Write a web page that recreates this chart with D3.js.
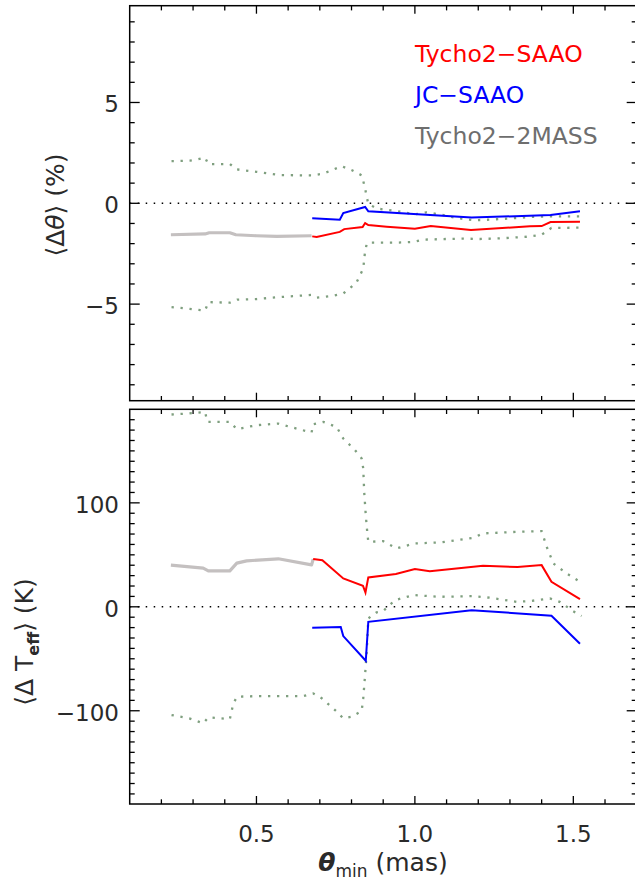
<!DOCTYPE html>
<html><head><meta charset="utf-8">
<script src="https://cdn.jsdelivr.net/npm/d3@7"></script>
<style>body{margin:0;background:#fff}svg{display:block}text{font-family:"DejaVu Sans",sans-serif;font-weight:normal}</style>
</head><body><svg id="c" width="635" height="881"></svg>
<script>
// ---------- data ----------
const xMajorTicks = [0.5, 1.0, 1.5];
const xTickLabels = ["0.5", "1.0", "1.5"];
const thetaTicks = [-5, 0, 5];
const thetaTickLabels = ["\u22125", "0", "5"];
const teffTicks = [-100, 0, 100];
const teffTickLabels = ["\u2212100", "0", "100"];
const legendLabels = ["Tycho2\u2212SAAO", "JC\u2212SAAO", "Tycho2\u22122MASS"];

// top panel: <Δθ> (%)
const t2mTheta_x = [0.23, 0.338, 0.351, 0.416, 0.435, 0.50, 0.564, 0.674];
const t2mTheta_y = [-1.56, -1.52, -1.46, -1.46, -1.56, -1.61, -1.64, -1.61];
const tsaaoTheta_x = [0.676, 0.69, 0.763, 0.777, 0.835, 0.843, 0.853, 0.911, 1.0, 1.05, 1.177, 1.363, 1.40, 1.428, 1.521];
const tsaaoTheta_y = [-1.64, -1.67, -1.42, -1.28, -1.18, -0.98, -1.08, -1.16, -1.26, -1.13, -1.32, -1.14, -1.13, -0.93, -0.91];
const jcTheta_x = [0.676, 0.763, 0.774, 0.843, 0.853, 1.179, 1.428, 1.521];
const jcTheta_y = [-0.74, -0.81, -0.48, -0.18, -0.40, -0.71, -0.58, -0.40];
const upTheta_x = [0.232, 0.26, 0.29, 0.315, 0.338, 0.348, 0.416, 0.438, 0.50, 0.574, 0.674, 0.711, 0.769, 0.80, 0.832, 0.842, 0.848, 0.853, 0.879, 0.942, 1.0, 1.037, 1.079, 1.132, 1.184, 1.237, 1.321, 1.363, 1.426, 1.526];
const upTheta_y = [2.09, 2.1, 2.12, 2.18, 2.27, 1.94, 1.95, 1.68, 1.56, 1.40, 1.38, 1.47, 1.84, 1.65, 1.39, 0.81, 0.31, -0.02, -0.26, -0.38, -0.55, -0.45, -0.55, -0.73, -0.84, -0.81, -0.73, -0.68, -0.65, -0.65];
const loTheta_x = [0.232, 0.288, 0.338, 0.348, 0.416, 0.439, 0.50, 0.574, 0.648, 0.674, 0.69, 0.737, 0.774, 0.815, 0.837, 0.842, 0.848, 0.853, 0.942, 0.995, 1.026, 1.152, 1.205, 1.268, 1.352, 1.40, 1.431, 1.52];
const loTheta_y = [-5.15, -5.23, -5.32, -4.90, -4.93, -4.78, -4.75, -4.65, -4.57, -4.54, -4.68, -4.60, -4.47, -3.95, -3.24, -2.5, -2.0, -1.95, -1.95, -1.92, -1.80, -1.75, -1.77, -1.74, -1.66, -1.56, -1.22, -1.21];

// bottom panel: <ΔTeff> (K)
const t2mTeff_x = [0.23, 0.332, 0.348, 0.416, 0.438, 0.469, 0.569, 0.674, 0.679];
const t2mTeff_y = [40.1, 37.2, 34.6, 34.6, 42.0, 44.2, 46.2, 40.4, 45.9];
const tsaaoTeff_x = [0.679, 0.708, 0.774, 0.836, 0.844, 0.853, 0.94, 1.0, 1.047, 1.215, 1.324, 1.40, 1.431, 1.521];
const tsaaoTeff_y = [45.9, 44.9, 27.3, 20.3, 13.8, 28.3, 31.5, 36.3, 34.2, 39.6, 38.2, 40.1, 24.0, 7.4];
const jcTeff_x = [0.676, 0.766, 0.774, 0.845, 0.853, 1.179, 1.431, 1.521];
const jcTeff_y = [-20.2, -19.5, -28.2, -51.9, -14.4, -3.2, -8.6, -35.6];
const upTeff_x = [0.232, 0.288, 0.338, 0.345, 0.416, 0.438, 0.50, 0.569, 0.595, 0.646, 0.674, 0.679, 0.711, 0.753, 0.774, 0.811, 0.832, 0.837, 0.840, 0.845, 0.850, 0.853, 0.90, 0.942, 1.0, 1.079, 1.184, 1.215, 1.321, 1.40, 1.416, 1.437, 1.479, 1.526];
const upTeff_y = [185, 186, 187.5, 177.9, 177.9, 170.9, 174.7, 176.3, 174, 169.9, 167.7, 175.7, 177.9, 173, 161.9, 150.7, 142.7, 133.1, 110.6, 88.2, 70.6, 62.5, 63.2, 56.2, 61, 61.9, 66.3, 70.6, 72.1, 72.8, 57.7, 41.7, 32.1, 23.1];
const loTeff_x = [0.232, 0.288, 0.332, 0.348, 0.416, 0.427, 0.439, 0.50, 0.648, 0.679, 0.706, 0.748, 0.774, 0.80, 0.832, 0.837, 0.842, 0.848, 0.853, 0.879, 0.90, 0.937, 0.995, 1.079, 1.184, 1.237, 1.321, 1.363, 1.426, 1.457, 1.499, 1.526];
const loTeff_y = [-104.1, -107.3, -112.1, -106.3, -108, -92.9, -86.5, -85.9, -85.9, -83.3, -88, -99.3, -107.3, -105.8, -100.3, -88.1, -68.8, -43.3, -11.2, -5.4, -4.1, 6.4, 11.3, 9.6, 10.3, 8.7, 4.8, 5.5, 8.1, 4.8, -4.1, -8.9];

// ---------- drawing ----------
const svg = d3.select("#c");
const X0 = 129.7, X1 = 636.7;
const x = d3.scaleLinear().domain([0.1, 1.7]).range([X0, X1]);
const zip = (a, b) => a.map((v, i) => [v, b[i]]);

const COL = {red: "#ff0000", blue: "#0000ff", gray: "#c4c0c0", env: "#7f9f7f", legGray: "#6e6e6e"};

function panel(top, bottom, domain, majors, majorLabels, minorStep, series) {
  const y = d3.scaleLinear().domain(domain).range([bottom, top]);
  const g = svg.append("g");
  const line = d3.line().x(d => x(d[0])).y(d => y(d[1]));
  g.append("line").attr("x1", X0).attr("x2", X1).attr("y1", y(0)).attr("y2", y(0))
    .attr("stroke", "#000").attr("stroke-width", 1.5).attr("stroke-dasharray", "1.5,6.5");
  series.env.forEach(s => {
    g.append("path").attr("d", line(s)).attr("fill", "none").attr("stroke", COL.env)
      .attr("stroke-width", 2.3).attr("stroke-dasharray", "2.3,6.7");
  });
  g.append("path").attr("d", line(series.gray)).attr("fill", "none").attr("stroke", COL.gray).attr("stroke-width", 3.2).attr("stroke-linejoin", "round");
  g.append("path").attr("d", line(series.red)).attr("fill", "none").attr("stroke", COL.red).attr("stroke-width", 2);
  g.append("path").attr("d", line(series.blue)).attr("fill", "none").attr("stroke", COL.blue).attr("stroke-width", 2);
  g.append("rect").attr("x", X0).attr("y", top).attr("width", X1 - X0).attr("height", bottom - top)
    .attr("fill", "none").attr("stroke", "#000").attr("stroke-width", 1.5);
  const xMinor = d3.range(0.2, 1.7, 0.1).map(v => +v.toFixed(2)).filter(v => !xMajorTicks.some(m => Math.abs(m - v) < 1e-6));
  const tk = (xx, len) => {
    g.append("line").attr("x1", x(xx)).attr("x2", x(xx)).attr("y1", bottom).attr("y2", bottom - len).attr("stroke", "#000").attr("stroke-width", 1.3);
    g.append("line").attr("x1", x(xx)).attr("x2", x(xx)).attr("y1", top).attr("y2", top + len).attr("stroke", "#000").attr("stroke-width", 1.3);
  };
  xMajorTicks.forEach(v => tk(v, 8));
  xMinor.forEach(v => tk(v, 4.7));
  const yMinor = d3.range(Math.ceil(domain[0] / minorStep) * minorStep, domain[1], minorStep)
    .filter(v => !majors.some(m => Math.abs(m - v) < 1e-6));
  const ytk = (v, len) => {
    g.append("line").attr("x1", X0).attr("x2", X0 + len).attr("y1", y(v)).attr("y2", y(v)).attr("stroke", "#000").attr("stroke-width", 1.3);
    g.append("line").attr("x1", X1).attr("x2", X1 - len).attr("y1", y(v)).attr("y2", y(v)).attr("stroke", "#000").attr("stroke-width", 1.3);
  };
  majors.forEach(v => ytk(v, 10));
  yMinor.forEach(v => ytk(v, 5));
  majors.forEach((v, i) => {
    g.append("text").attr("x", 119).attr("y", y(v) + 10).attr("text-anchor", "end")
      .attr("font-size", 23).attr("fill", "#2a2a2a").text(majorLabels[i]);
  });
  return y;
}

panel(5.7, 400.7, [-9.79, 9.8], thetaTicks, thetaTickLabels, 1, {
  gray: zip(t2mTheta_x, t2mTheta_y), red: zip(tsaaoTheta_x, tsaaoTheta_y), blue: zip(jcTheta_x, jcTheta_y),
  env: [zip(upTheta_x, upTheta_y), zip(loTheta_x, loTheta_y)]
});
panel(409.3, 804, [-189.7, 190], teffTicks, teffTickLabels, 10, {
  gray: zip(t2mTeff_x, t2mTeff_y), red: zip(tsaaoTeff_x, tsaaoTeff_y), blue: zip(jcTeff_x, jcTeff_y),
  env: [zip(upTeff_x, upTeff_y), zip(loTeff_x, loTeff_y)]
});

xMajorTicks.forEach((v, i) => {
  svg.append("text").attr("x", x(v)).attr("y", 842).attr("text-anchor", "middle").attr("font-size", 23).attr("fill", "#2a2a2a").text(xTickLabels[i]);
});

const legCols = [COL.red, COL.blue, COL.legGray];
legendLabels.forEach((t, i) => {
  svg.append("text").attr("x", 415).attr("y", 62 + i * 41).attr("font-size", 23.5).attr("fill", legCols[i]).text(t);
});

const xl = svg.append("text").attr("x", 383).attr("y", 871).attr("text-anchor", "middle").attr("font-size", 25).attr("fill", "#2a2a2a");
xl.append("tspan").attr("font-style", "italic").attr("font-weight", "bold").text("\u03b8");
xl.append("tspan").attr("font-size", 17).attr("dy", 6).text("min");
xl.append("tspan").attr("dy", -6).text(" (mas)");

const yl1 = svg.append("text").attr("transform", "translate(64,205) rotate(-90)").attr("text-anchor", "middle").attr("font-size", 25).attr("fill", "#2a2a2a");
yl1.append("tspan").text("\u27e8\u0394");
yl1.append("tspan").attr("font-style", "italic").text("\u03b8");
yl1.append("tspan").text("\u27e9 (%)");

const yl2 = svg.append("text").attr("transform", "translate(33,642) rotate(-90)").attr("text-anchor", "middle").attr("font-size", 25).attr("fill", "#2a2a2a");
yl2.append("tspan").text("\u27e8\u0394 T");
yl2.append("tspan").attr("font-size", 16).attr("font-weight", "bold").attr("dy", 6).text("eff");
yl2.append("tspan").attr("dy", -6).text("\u27e9 (K)");
</script></body></html>
